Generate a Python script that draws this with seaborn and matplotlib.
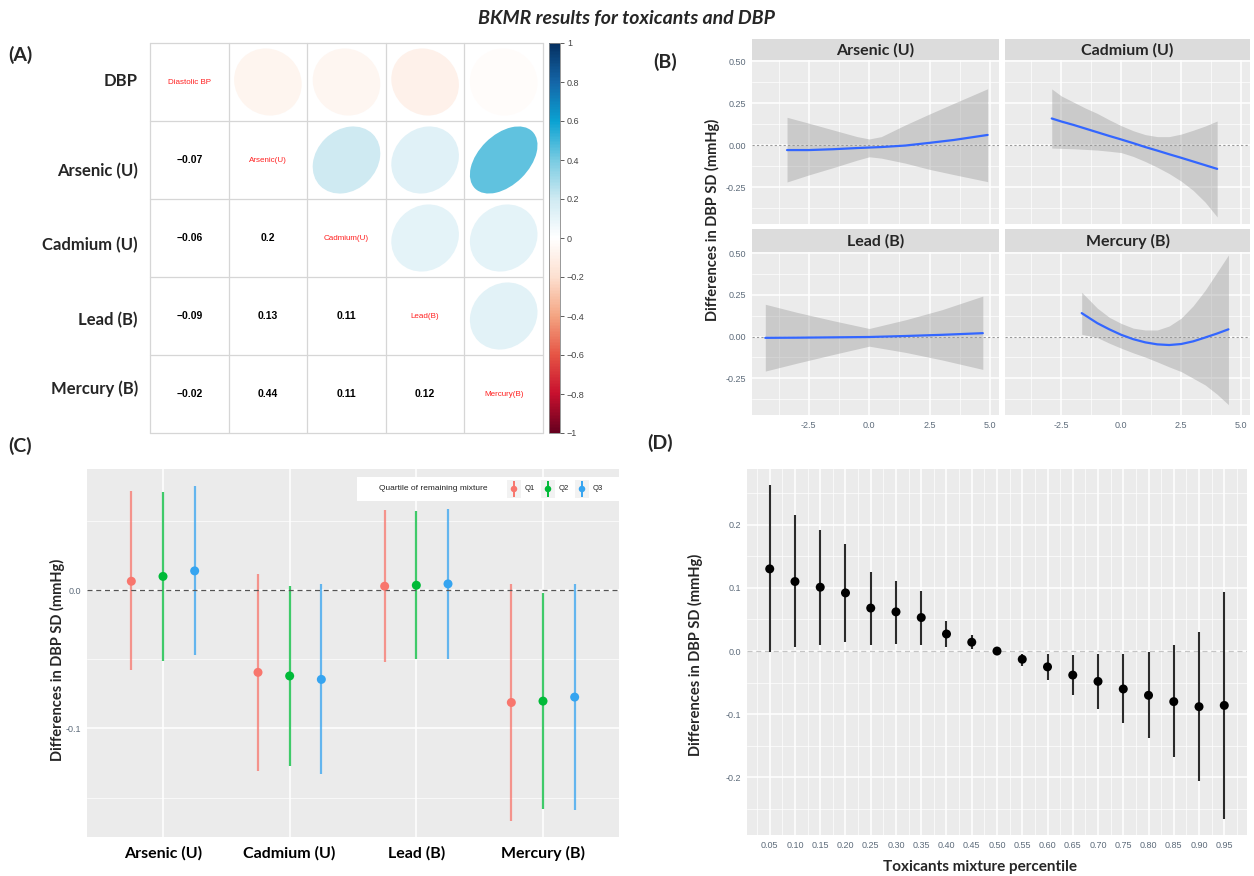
import numpy as np
import pandas as pd
import matplotlib
matplotlib.use('Agg')
import matplotlib.pyplot as plt
import seaborn as sns
from matplotlib.patches import Ellipse, Rectangle
from matplotlib.colors import LinearSegmentedColormap, Normalize

# ---------------- data ----------------
# (A) correlation matrix
corr_labels = ['DBP', 'Arsenic (U)', 'Cadmium (U)', 'Lead (B)', 'Mercury (B)']
diag_names = ['Diastolic BP', 'Arsenic(U)', 'Cadmium(U)', 'Lead(B)', 'Mercury(B)']
corr_vals = [
    [1.00, -0.07, -0.06, -0.09, -0.02],
    [-0.07, 1.00, 0.20, 0.13, 0.44],
    [-0.06, 0.20, 1.00, 0.11, 0.11],
    [-0.09, 0.13, 0.11, 1.00, 0.12],
    [-0.02, 0.44, 0.11, 0.12, 1.00],
]

# (B) univariate exposure-response (estimate + 95% band)
as_x = [-3.4, -2.5, -1.5, -0.5, 0.0, 0.5, 1.5, 2.5, 3.5, 4.9]
as_fit = [-0.030, -0.030, -0.025, -0.018, -0.015, -0.012, -0.003, 0.013, 0.030, 0.060]
as_lo = [-0.220, -0.178, -0.135, -0.090, -0.070, -0.078, -0.108, -0.145, -0.176, -0.218]
as_hi = [0.165, 0.130, 0.090, 0.050, 0.036, 0.050, 0.120, 0.185, 0.248, 0.335]

cd_x = [-2.9, -2.5, -2.0, -1.5, -1.0, -0.5, 0.0, 0.5, 1.0, 1.5, 2.0, 2.5, 3.0, 3.5, 4.0]
cd_fit = [0.158, 0.140, 0.120, 0.098, 0.076, 0.054, 0.033, 0.011, -0.012, -0.033,
          -0.055, -0.076, -0.098, -0.120, -0.142]
cd_lo = [-0.018, -0.020, -0.022, -0.026, -0.030, -0.037, -0.045, -0.068, -0.098, -0.132,
         -0.170, -0.215, -0.270, -0.340, -0.428]
cd_hi = [0.334, 0.292, 0.256, 0.220, 0.188, 0.150, 0.115, 0.085, 0.062, 0.050,
         0.050, 0.065, 0.088, 0.113, 0.143]

pb_x = [-4.3, -3.0, -1.5, 0.0, 1.5, 3.0, 4.7]
pb_fit = [-0.008, -0.007, -0.005, -0.003, 0.003, 0.010, 0.020]
pb_lo = [-0.207, -0.160, -0.108, -0.058, -0.095, -0.140, -0.197]
pb_hi = [0.193, 0.145, 0.095, 0.048, 0.100, 0.160, 0.242]

hg_x = [-1.65, -1.0, -0.5, 0.0, 0.5, 1.0, 1.5, 2.0, 2.5, 3.0, 3.5, 4.0, 4.47]
hg_fit = [0.140, 0.080, 0.043, 0.010, -0.016, -0.035, -0.047, -0.051, -0.045, -0.029,
          -0.006, 0.018, 0.043]
hg_lo = [0.013, -0.006, -0.040, -0.070, -0.098, -0.123, -0.152, -0.182, -0.210, -0.250,
         -0.290, -0.346, -0.408]
hg_hi = [0.265, 0.170, 0.115, 0.078, 0.050, 0.039, 0.039, 0.063, 0.110, 0.184,
         0.277, 0.385, 0.488]

# (C) single-exposure effects by quartile of remaining mixture
c_cats = ['Arsenic (U)', 'Cadmium (U)', 'Lead (B)', 'Mercury (B)']
c_quart = ['Q1', 'Q2', 'Q3']
q1_est = [0.0065, -0.0594, 0.0029, -0.0812]
q1_lo = [-0.0580, -0.1307, -0.0517, -0.1667]
q1_hi = [0.0720, 0.0118, 0.0577, 0.0043]
q2_est = [0.0100, -0.0620, 0.0036, -0.0802]
q2_lo = [-0.0510, -0.1270, -0.0498, -0.1580]
q2_hi = [0.0710, 0.0034, 0.0570, -0.0017]
q3_est = [0.0140, -0.0645, 0.0046, -0.0773]
q3_lo = [-0.0470, -0.1330, -0.0498, -0.1590]
q3_hi = [0.0756, 0.0043, 0.0590, 0.0043]

# (D) overall mixture effect
d_pct = [0.05, 0.10, 0.15, 0.20, 0.25, 0.30, 0.35, 0.40, 0.45, 0.50,
         0.55, 0.60, 0.65, 0.70, 0.75, 0.80, 0.85, 0.90, 0.95]
d_est = [0.130, 0.110, 0.101, 0.092, 0.068, 0.062, 0.053, 0.027, 0.014, 0.000,
         -0.013, -0.025, -0.038, -0.048, -0.060, -0.070, -0.080, -0.088, -0.086]
d_lo = [-0.002, 0.006, 0.010, 0.014, 0.010, 0.011, 0.010, 0.006, 0.003, 0.000,
        -0.024, -0.046, -0.069, -0.092, -0.114, -0.138, -0.168, -0.206, -0.265]
d_hi = [0.263, 0.216, 0.191, 0.170, 0.125, 0.111, 0.095, 0.048, 0.025, 0.000,
        -0.004, -0.005, -0.006, -0.005, -0.005, -0.001, 0.009, 0.030, 0.094]

# ---------------- style ----------------
sns.set_theme(style='white')
plt.rcParams['font.family'] = ['Liberation Sans', 'DejaVu Sans']
plt.rcParams['axes.unicode_minus'] = False

W, H = 1254, 876
fig = plt.figure(figsize=(W / 100, H / 100), dpi=100)
BOLD = dict(family='Lato', weight='bold')
TICK_COL = '#5d6b7a'
YLAB = 'Differences in DBP SD (mmHg)'


def px_axes(x0, y0, x1, y1):
    return fig.add_axes([x0 / W, 1 - y1 / H, (x1 - x0) / W, (y1 - y0) / H])


def ftext(x, y, s, **kw):
    fig.text(x / W, 1 - y / H, s, **kw)


def gg(ax):
    # ggplot grey theme
    ax.set_facecolor('#EBEBEB')
    for s in ax.spines.values():
        s.set_visible(False)
    ax.grid(True, which='major', color='white', lw=1.1)
    ax.grid(True, which='minor', color='white', lw=0.5)
    ax.set_axisbelow(True)
    ax.tick_params(which='major', length=2.5, width=0.6, color='#333333',
                   labelsize=6.5, labelcolor=TICK_COL, pad=1.5)
    ax.tick_params(which='minor', length=0)


ftext(627, 19, 'BKMR results for toxicants and DBP', ha='center', va='center',
      fontsize=14, family='Lato', weight='bold', style='italic')

# ---------------- (A) corrplot ----------------
corr_cmap = LinearSegmentedColormap.from_list('corr', [
    '#67001F', '#C8102E', '#E65545', '#F4A582', '#FDE0D0', '#FFFFFF',
    '#CFEAF2', '#78CBE2', '#0AA2D2', '#1466A8', '#053061'])
norm = Normalize(-1, 1)
corr_df = pd.DataFrame(corr_vals, index=corr_labels, columns=corr_labels)

axA = px_axes(150, 43, 543, 433)
cax = px_axes(549, 43, 560, 433)
sns.heatmap(corr_df, mask=np.ones(corr_df.shape, dtype=bool), cmap=corr_cmap,
            vmin=-1, vmax=1, ax=axA, cbar_ax=cax, xticklabels=False, yticklabels=False)
axA.set_xlim(0, 5)
axA.set_ylim(5, 0)
for k in range(6):
    axA.axhline(k, color='#D6D6D6', lw=0.9, clip_on=False)
    axA.axvline(k, color='#D6D6D6', lw=0.9, clip_on=False)
n = len(corr_labels)
for i in range(n):
    for j in range(n):
        r = corr_df.iloc[i, j]
        if i == j:
            axA.text(j + 0.5, i + 0.5, diag_names[i], ha='center', va='center',
                     color='#FF2020', fontsize=5.8)
        elif i > j:
            axA.text(j + 0.5, i + 0.5, f'{r:g}'.replace('-', '\u2212'), ha='center',
                     va='center', color='black', fontsize=7.5, weight='bold')
        else:
            axA.add_patch(Ellipse((j + 0.5, i + 0.5), width=0.86 * np.sqrt(1 + r),
                                  height=0.86 * np.sqrt(1 - r), angle=-45,
                                  facecolor=corr_cmap(norm(r)), edgecolor='none'))
cb = axA.collections[0].colorbar
cb_ticks = np.round(np.linspace(-1, 1, 11), 1) + 0.0
cb.set_ticks(cb_ticks)
cb.set_ticklabels([f'{v:g}'.replace('-', '\u2212') for v in cb_ticks])
cb.outline.set_edgecolor('#888888')
cb.outline.set_linewidth(0.6)
cax.tick_params(length=3, width=0.6, labelsize=6.5, colors='#444444', pad=2)

a_label_y = [81, 171, 245, 320, 389]
for name, yy in zip(corr_labels, a_label_y):
    ftext(138, yy, name, ha='right', va='center', fontsize=12, **BOLD)

# ---------------- (B) facets ----------------
facets = [('Arsenic (U)', as_x, as_fit, as_lo, as_hi),
          ('Cadmium (U)', cd_x, cd_fit, cd_lo, cd_hi),
          ('Lead (B)', pb_x, pb_fit, pb_lo, pb_hi),
          ('Mercury (B)', hg_x, hg_fit, hg_lo, hg_hi)]
col_x = [(752, 999), (1005, 1250)]
row_y = [(60, 224), (252, 415)]
strip_y = [(39, 60), (229, 252)]
for k, (name, xs, fit, lo, hi) in enumerate(facets):
    r, c = divmod(k, 2)
    ax = px_axes(col_x[c][0], row_y[r][0], col_x[c][1], row_y[r][1])
    gg(ax)
    ax.fill_between(xs, lo, hi, color='#999999', alpha=0.4, lw=0, zorder=2)
    sns.lineplot(x=xs, y=fit, ax=ax, color='#3366FF', lw=1.6, zorder=3)
    ax.axhline(0, color='#9A9A9A', ls=(0, (2, 2)), lw=0.8, zorder=2.5)
    ax.set_xlim(-4.85, 5.37)
    ax.set_ylim(-0.47, 0.506)
    ax.set_xticks([-2.5, 0, 2.5, 5.0])
    ax.set_xticks([-3.75, -1.25, 1.25, 3.75], minor=True)
    ax.set_yticks([-0.25, 0, 0.25, 0.5])
    ax.set_yticks([-0.375, -0.125, 0.125, 0.375], minor=True)
    if r == 1:
        ax.set_xticklabels(['-2.5', '0.0', '2.5', '5.0'])
    else:
        ax.tick_params(axis='x', which='both', length=0, labelbottom=False)
    if c == 0:
        ax.set_yticklabels(['-0.25', '0.00', '0.25', '0.50'])
    else:
        ax.tick_params(axis='y', which='both', length=0, labelleft=False)
    sax = px_axes(col_x[c][0], strip_y[r][0], col_x[c][1], strip_y[r][1])
    sax.set_facecolor('#DCDCDC')
    sax.set_xticks([])
    sax.set_yticks([])
    for s in sax.spines.values():
        s.set_visible(False)
    sax.text(0.5, 0.45, name, transform=sax.transAxes, ha='center', va='center',
             fontsize=11.5, **BOLD)
ftext(712, 220, YLAB, rotation=90, ha='center', va='center', fontsize=10.5, **BOLD)

# ---------------- (C) quartile comparison ----------------
c_rows = []
for q, est, lo, hi in [('Q1', q1_est, q1_lo, q1_hi), ('Q2', q2_est, q2_lo, q2_hi),
                       ('Q3', q3_est, q3_lo, q3_hi)]:
    for ci, cat in enumerate(c_cats):
        c_rows.append(dict(variable=cat, quartile=q, est=est[ci], lo=lo[ci], hi=hi[ci]))
dfc = pd.DataFrame(c_rows)
dodge = {'Q1': -0.25, 'Q2': 0.0, 'Q3': 0.25}
dfc['xpos'] = dfc['variable'].map({c: i for i, c in enumerate(c_cats)}) + dfc['quartile'].map(dodge)
q_pal = {'Q1': '#F8766D', 'Q2': '#00BA38', 'Q3': '#35A4F0'}

axC = px_axes(87, 469, 619, 837)
gg(axC)
for q, sub in dfc.groupby('quartile'):
    axC.vlines(sub['xpos'], sub['lo'], sub['hi'], color=q_pal[q], alpha=0.75, lw=1.6, zorder=3)
sns.scatterplot(data=dfc, x='xpos', y='est', hue='quartile', palette=q_pal, s=42,
                edgecolor='none', legend=False, ax=axC, zorder=4)
axC.axhline(0, color='#555555', ls=(0, (4, 3)), lw=0.9, zorder=3.5)
axC.set_xlim(-0.6, 3.6)
axC.set_ylim(-0.1785, 0.0877)
axC.set_xticks(range(len(c_cats)))
axC.set_xticklabels(c_cats, fontsize=11.5, color='black', **BOLD)
axC.tick_params(axis='x', pad=4)
axC.set_yticks([-0.1, 0.0])
axC.set_yticklabels(['-0.1', '0.0'])
axC.set_yticks([-0.15, -0.05, 0.05], minor=True)
axC.set_xlabel('')
axC.set_ylabel('')
ftext(57, 660, YLAB, rotation=90, ha='center', va='center', fontsize=10.5, **BOLD)

# legend box (top right inside panel C)
leg = px_axes(357, 477, 619, 501)
leg.set_facecolor('white')
leg.set_xlim(0, 262)
leg.set_ylim(0, 1)
leg.set_xticks([])
leg.set_yticks([])
for s in leg.spines.values():
    s.set_visible(False)
leg.text(22, 0.5, 'Quartile of remaining mixture', ha='left', va='center',
         fontsize=6, color='#222222')
for q, kx in zip(c_quart, [157, 191, 225]):
    leg.add_patch(Rectangle((kx - 7, 0.12), 14, 0.76, facecolor='#F2F2F2', edgecolor='none'))
    leg.vlines(kx, 0.18, 0.82, color=q_pal[q], lw=1.4)
    leg.scatter([kx], [0.5], s=22, color=q_pal[q], edgecolor='none', zorder=3)
    leg.text(kx + 11, 0.5, q, ha='left', va='center', fontsize=5.5, color='#222222')

# ---------------- (D) overall mixture ----------------
dfd = pd.DataFrame(dict(pct=d_pct, est=d_est, lo=d_lo, hi=d_hi))
axD = px_axes(747, 469, 1247, 835)
gg(axD)
axD.axhline(0, color='#C4C4C4', ls=(0, (4, 3)), lw=0.9, zorder=2)
axD.vlines(dfd['pct'], dfd['lo'], dfd['hi'], color='#2B2B2B', lw=1.5, zorder=3)
sns.scatterplot(data=dfd, x='pct', y='est', color='black', s=42, edgecolor='none',
                ax=axD, zorder=4)
axD.set_xlim(0.005, 0.995)
axD.set_ylim(-0.291, 0.288)
axD.set_xticks(d_pct)
axD.set_xticklabels([f'{p:.2f}' for p in d_pct])
axD.set_xticks([p - 0.025 for p in d_pct] + [0.975], minor=True)
axD.set_yticks([-0.2, -0.1, 0.0, 0.1, 0.2])
axD.set_yticklabels(['-0.2', '-0.1', '0.0', '0.1', '0.2'])
axD.set_yticks([-0.25, -0.15, -0.05, 0.05, 0.15, 0.25], minor=True)
axD.set_xlabel('')
axD.set_ylabel('')
ftext(695, 655, YLAB, rotation=90, ha='center', va='center', fontsize=10.5, **BOLD)
ftext(980, 867, 'Toxicants mixture percentile', ha='center', va='center', fontsize=11, **BOLD)

# panel tags
ftext(8, 55, '(A)', ha='left', va='center', fontsize=14, **BOLD)
ftext(665, 62, '(B)', ha='center', va='center', fontsize=14, **BOLD)
ftext(8, 446, '(C)', ha='left', va='center', fontsize=14, **BOLD)
ftext(660, 443, '(D)', ha='center', va='center', fontsize=14, **BOLD)

fig.savefig('out.png', dpi=100)
